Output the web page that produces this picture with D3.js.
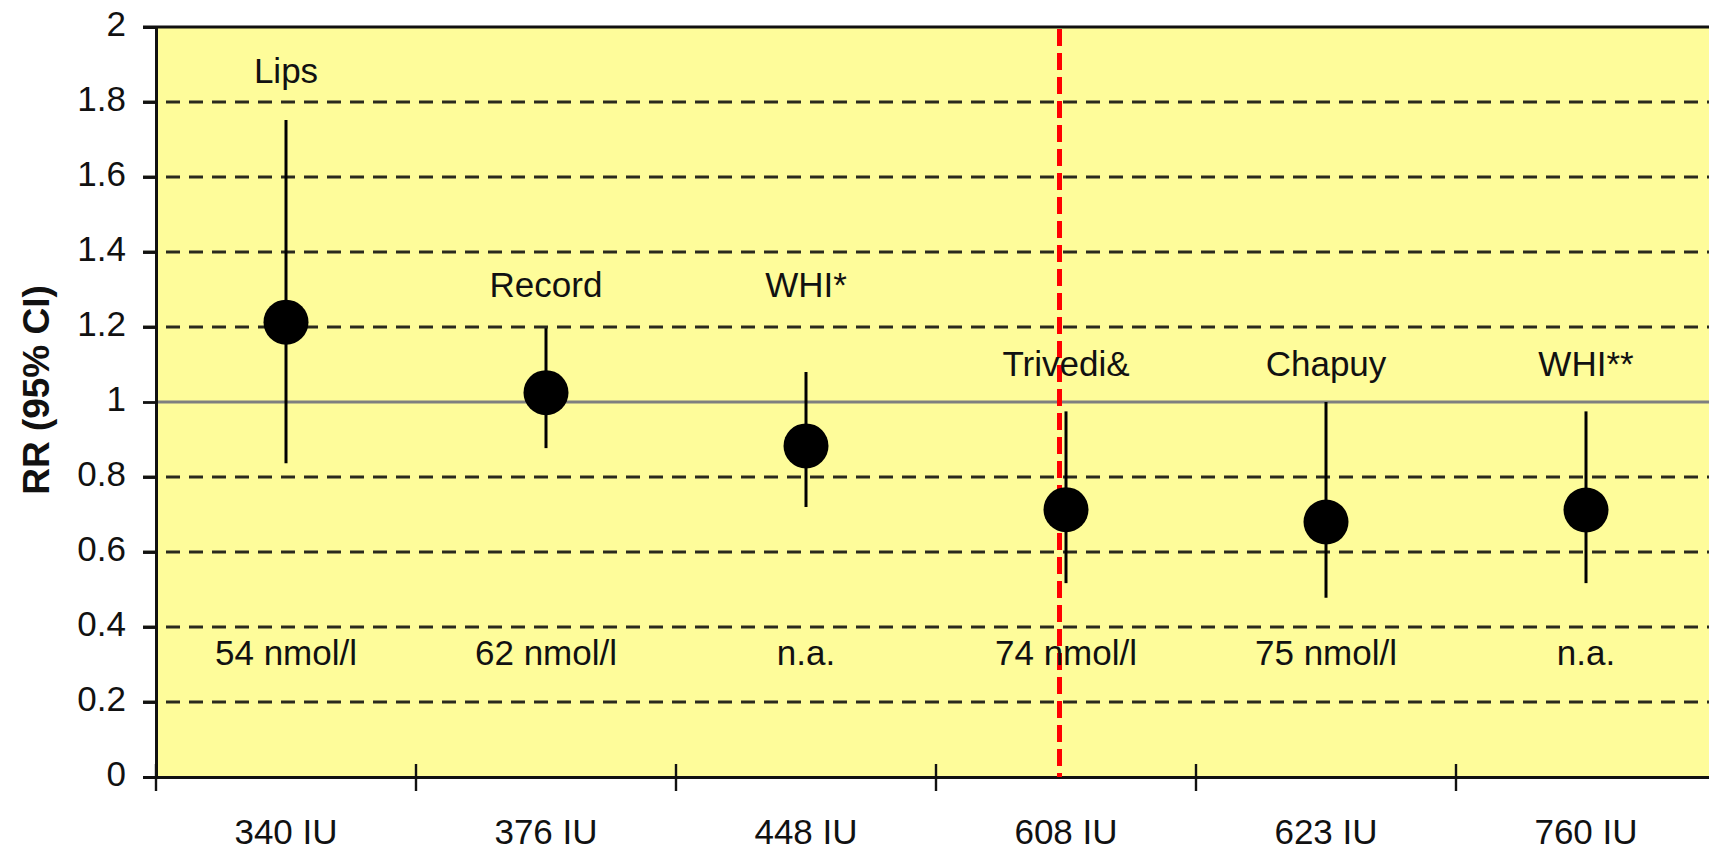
<!DOCTYPE html>
<html>
<head>
<meta charset="utf-8">
<script src="https://cdn.jsdelivr.net/npm/d3@7"></script>
<style>
  body { margin: 0; background: #fff; }
  text { font-family: "Liberation Sans", Arial, sans-serif; fill: #111; }
</style>
</head>
<body>
<div id="chart"></div>
<script>
// chart values
const categories = ["340 IU", "376 IU", "448 IU", "608 IU", "623 IU", "760 IU"];
const studies = ["Lips", "Record", "WHI*", "Trivedi&", "Chapuy", "WHI**"];
const levels = ["54 nmol/l", "62 nmol/l", "n.a.", "74 nmol/l", "75 nmol/l", "n.a."];
const rr = [1.213, 1.025, 0.883, 0.713, 0.68, 0.712];
const ciLow = [0.837, 0.877, 0.72, 0.517, 0.478, 0.517];
const ciHigh = [1.752, 1.197, 1.08, 0.975, 1.0, 0.975];
const studyLabelRR = [1.85, 1.28, 1.28, 1.07, 1.07, 1.07];
const levelLabelRR = 0.3;
const yTicks = [0, 0.2, 0.4, 0.6, 0.8, 1, 1.2, 1.4, 1.6, 1.8, 2];
const refRR = 1;
const cutoffPos = 3.475; // red line, in category units

var margin = { top: 27, left: 156, bottom: 75, right: 0 },
    initialWidth = 1709,
    initialHeight = 852,
    width = 1560,
    height = initialHeight - margin.top - margin.bottom;

var svg = d3.select('#chart').append('svg')
    .attr('width', initialWidth)
    .attr('height', initialHeight)
    .append('g')
    .attr('transform', 'translate(' + margin.left + ', ' + margin.top + ')');

const x = d3.scaleBand()
    .domain(categories)
    .range([0, width])
    .padding(0);

const xPos = d3.scaleLinear()
    .domain([0, categories.length])
    .range([0, width]);

const y = d3.scaleLinear()
    .domain([0, 2])
    .range([height, 0]);

const data = categories.map((c, i) => ({
    cat: c, study: studies[i], level: levels[i],
    rr: rr[i], lo: ciLow[i], hi: ciHigh[i], labelRR: studyLabelRR[i]
}));

// plot background
svg.append("rect")
    .attr("x", 0).attr("y", 0)
    .attr("width", width).attr("height", height)
    .attr("fill", "#fefc9a");

// dashed gridlines
svg.selectAll(".grid")
    .data(yTicks.filter(d => d > 0 && d < 2 && d !== refRR))
    .join("line")
    .attr("class", "grid")
    .attr("x1", -13).attr("x2", width)
    .attr("y1", d => y(d)).attr("y2", d => y(d))
    .attr("stroke", "#2a2a1e")
    .attr("stroke-width", 2.8)
    .attr("stroke-dasharray", "14,9");

// reference line at RR = 1
svg.append("line")
    .attr("x1", 0).attr("x2", width)
    .attr("y1", y(refRR)).attr("y2", y(refRR))
    .attr("stroke", "#7f7f7f")
    .attr("stroke-width", 3);

// top border
svg.append("line")
    .attr("x1", -13).attr("x2", width)
    .attr("y1", y(2)).attr("y2", y(2))
    .attr("stroke", "#111")
    .attr("stroke-width", 3);

// y axis
const yAxis = svg.append("g")
    .attr("class", "y-axis")
    .call(d3.axisLeft(y).tickValues(yTicks).tickSize(13).tickPadding(17).tickFormat(d3.format("~g")));
yAxis.select(".domain").attr("stroke", "#111").attr("stroke-width", 3);
yAxis.selectAll(".tick line").attr("stroke", "#111").attr("stroke-width", 2.8);
yAxis.selectAll(".tick text")
    .style("font-size", "35px")
    .attr("dy", "0.25em");

// x axis
const xAxis = svg.append("g")
    .attr("class", "x-axis")
    .attr("transform", "translate(0," + height + ")")
    .call(d3.axisBottom(x).tickSize(0));
xAxis.select(".domain").attr("stroke", "#111").attr("stroke-width", 3);
xAxis.selectAll(".tick text")
    .style("font-size", "35px")
    .attr("y", 67)
    .attr("dy", null);

// category boundary ticks
svg.selectAll(".xtick")
    .data(categories)
    .join("line")
    .attr("class", "xtick")
    .attr("x1", d => x(d)).attr("x2", d => x(d))
    .attr("y1", height - 13).attr("y2", height + 14)
    .attr("stroke", "#111")
    .attr("stroke-width", 2.4);

// red cut-off line
svg.append("line")
    .attr("x1", xPos(cutoffPos)).attr("x2", xPos(cutoffPos))
    .attr("y1", y(2) + 2).attr("y2", y(0))
    .attr("stroke", "#ff0000")
    .attr("stroke-width", 5)
    .attr("stroke-dasharray", "17,7");

const cx = d => x(d.cat) + x.bandwidth() / 2;

// confidence intervals
svg.selectAll(".ci")
    .data(data)
    .join("line")
    .attr("class", "ci")
    .attr("x1", cx).attr("x2", cx)
    .attr("y1", d => y(d.lo)).attr("y2", d => y(d.hi))
    .attr("stroke", "#000")
    .attr("stroke-width", 3);

// point estimates
svg.selectAll(".pt")
    .data(data)
    .join("circle")
    .attr("class", "pt")
    .attr("cx", cx)
    .attr("cy", d => y(d.rr))
    .attr("r", 22.5)
    .attr("fill", "#000");

// study names
svg.selectAll(".study")
    .data(data)
    .join("text")
    .attr("class", "study")
    .attr("x", cx)
    .attr("y", d => y(d.labelRR))
    .attr("text-anchor", "middle")
    .style("font-size", "35px")
    .text(d => d.study);

// 25(OH)D levels
svg.selectAll(".level")
    .data(data)
    .join("text")
    .attr("class", "level")
    .attr("x", cx)
    .attr("y", y(levelLabelRR))
    .attr("text-anchor", "middle")
    .style("font-size", "35px")
    .text(d => d.level);

// y axis title
svg.append("text")
    .attr("transform", "translate(" + (36 - margin.left) + "," + (390 - margin.top) + ") rotate(-90)")
    .attr("text-anchor", "middle")
    .attr("dy", "0.35em")
    .style("font-size", "37px")
    .style("font-weight", "bold")
    .text("RR (95% CI)");
</script>
</body>
</html>
